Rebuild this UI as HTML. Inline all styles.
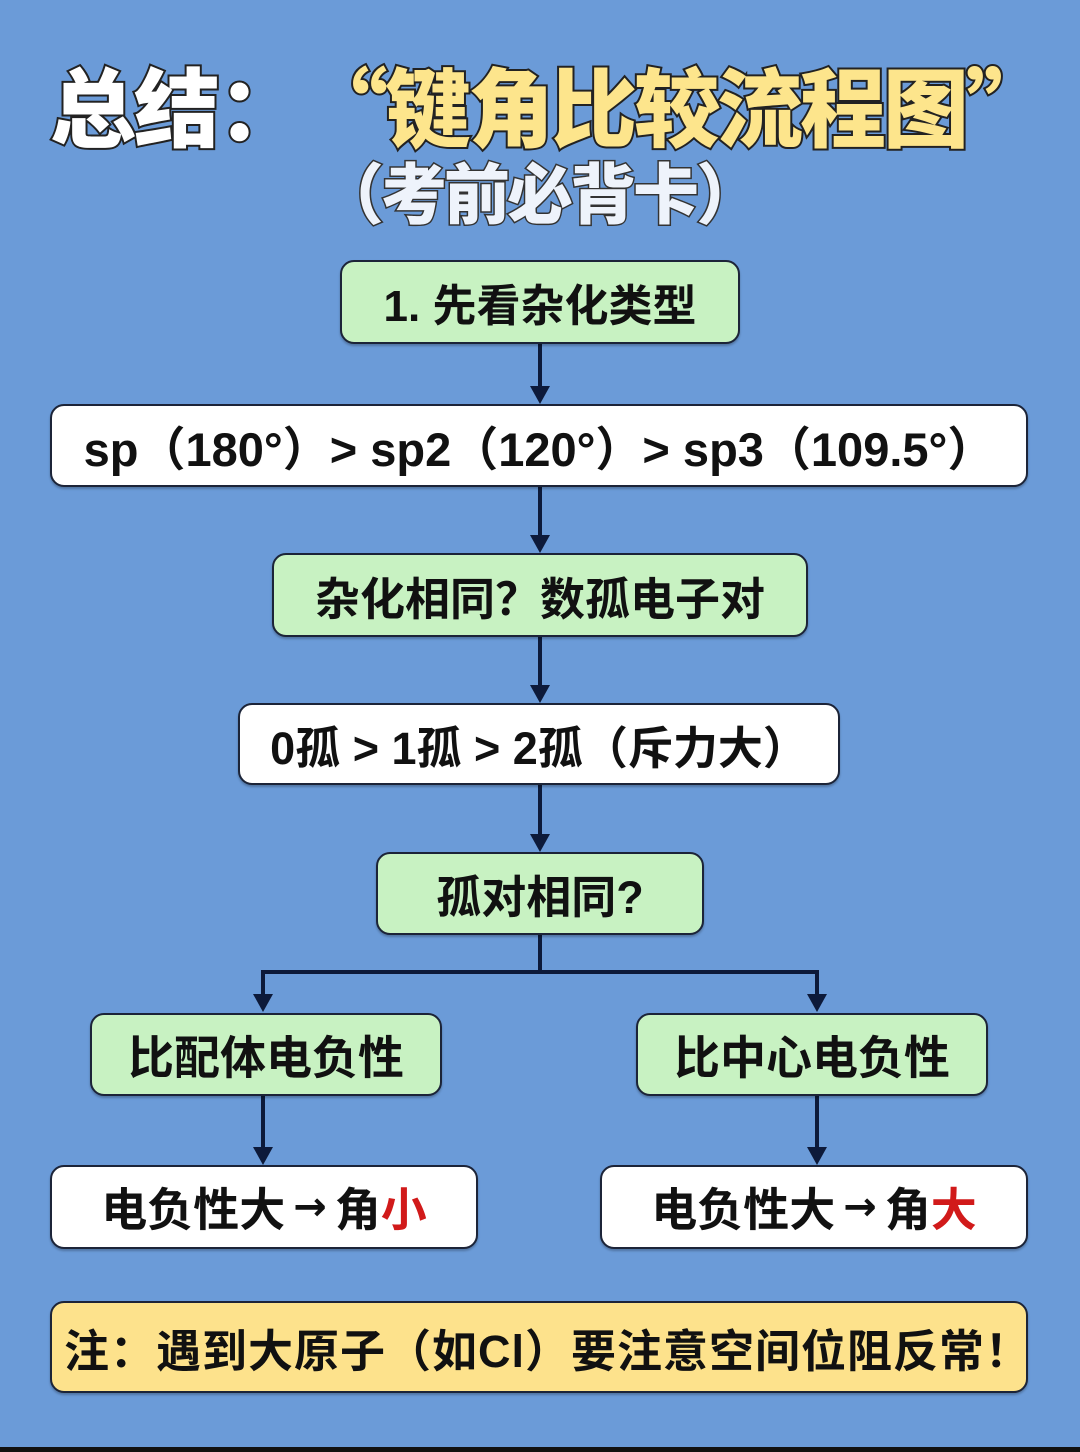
<!DOCTYPE html>
<html><head><meta charset="utf-8"><style>
body{margin:0;width:1080px;height:1452px;background:#6b9bd8;position:relative;overflow:hidden;font-family:"Liberation Sans","Noto Sans CJK SC",sans-serif;}
.b{position:absolute;box-sizing:border-box;border:2.5px solid #1c2438;border-radius:14px;display:flex;align-items:center;justify-content:center;font-weight:bold;color:#111;white-space:nowrap;box-shadow:0 2px 2px rgba(0,0,0,.25);}
.g{background:#c8f2c2;}.w{background:#fff;}.y{background:#fde28c;}
.t{position:absolute;font-weight:900;white-space:nowrap;font-family:"Noto Sans CJK SC",sans-serif;}
svg{position:absolute;left:0;top:0;}
.r{color:#d11a1a;}
.ar{font-family:"DejaVu Sans",sans-serif;font-size:40px;margin:0 8px;}
</style></head><body>
<div class="t" style="left:50px;top:40px;font-size:86px;color:#fff;-webkit-text-stroke:4px #222;paint-order:stroke fill;letter-spacing:-2px;">总结：</div>
<div class="t" style="left:302px;top:40px;font-size:86px;color:#fde58c;-webkit-text-stroke:4px #222;paint-order:stroke fill;letter-spacing:-3px;">“键角比较流程图”</div>
<div class="t" style="left:318px;top:142px;font-size:66px;color:#eef3fb;-webkit-text-stroke:3px #333;paint-order:stroke fill;letter-spacing:-3px;">（考前必背卡）</div>
<svg width="1080" height="1452">
<g stroke="#0d1a3a" stroke-width="4" fill="none">
<line x1="540" y1="344" x2="540" y2="388"/>
<line x1="540" y1="487" x2="540" y2="537"/>
<line x1="540" y1="637" x2="540" y2="687"/>
<line x1="540" y1="785" x2="540" y2="836"/>
<line x1="540" y1="935" x2="540" y2="972"/>
<line x1="263" y1="972" x2="817" y2="972"/>
<line x1="263" y1="970" x2="263" y2="996"/>
<line x1="817" y1="970" x2="817" y2="996"/>
<line x1="263" y1="1096" x2="263" y2="1149"/>
<line x1="817" y1="1096" x2="817" y2="1149"/>
</g>
<g fill="#0d1a3a">
<polygon points="530,386 550,386 540,404"/>
<polygon points="530,535 550,535 540,553"/>
<polygon points="530,685 550,685 540,703"/>
<polygon points="530,834 550,834 540,852"/>
<polygon points="253,994 273,994 263,1012"/>
<polygon points="807,994 827,994 817,1012"/>
<polygon points="253,1147 273,1147 263,1165"/>
<polygon points="807,1147 827,1147 817,1165"/>
</g>
</svg>
<div class="b g" style="left:340px;top:260px;width:400px;height:84px;font-size:44px;">1. 先看杂化类型</div>
<div class="b w" style="left:50px;top:404px;width:978px;height:83px;font-size:47px;">sp（180°）&gt; sp2（120°）&gt; sp3（109.5°）</div>
<div class="b g" style="left:272px;top:553px;width:536px;height:84px;font-size:45px;">杂化相同？数孤电子对</div>
<div class="b w" style="left:238px;top:703px;width:602px;height:82px;font-size:45px;">0孤 &gt; 1孤 &gt; 2孤（斥力大）</div>
<div class="b g" style="left:376px;top:852px;width:328px;height:83px;font-size:45px;">孤对相同?</div>
<div class="b g" style="left:90px;top:1013px;width:352px;height:83px;font-size:46px;">比配体电负性</div>
<div class="b g" style="left:636px;top:1013px;width:352px;height:83px;font-size:46px;">比中心电负性</div>
<div class="b w" style="left:50px;top:1165px;width:428px;height:84px;font-size:46px;">电负性大<span class="ar">→</span>角<span class="r">小</span></div>
<div class="b w" style="left:600px;top:1165px;width:428px;height:84px;font-size:46px;">电负性大<span class="ar">→</span>角<span class="r">大</span></div>
<div class="b y" style="left:50px;top:1301px;width:978px;height:92px;font-size:45px;justify-content:flex-start;padding-left:12px;letter-spacing:1px;">注：遇到大原子（如Cl）要注意空间位阻反常！</div>
<div style="position:absolute;left:0;top:1447px;width:1080px;height:5px;background:#111;"></div>
</body></html>
